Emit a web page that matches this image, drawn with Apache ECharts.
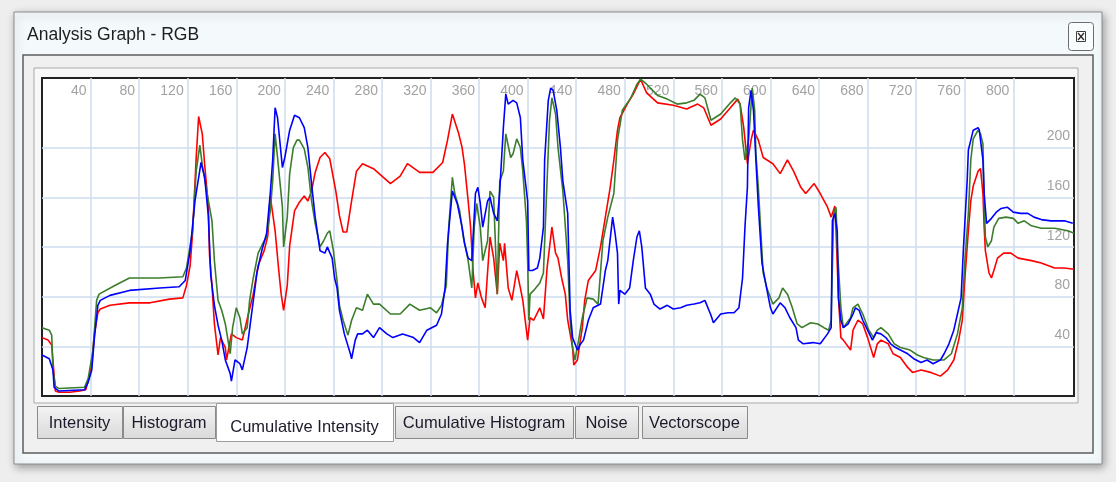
<!DOCTYPE html>
<html>
<head>
<meta charset="utf-8">
<script src="https://cdn.jsdelivr.net/npm/echarts@6/dist/echarts.min.js"></script>
<style>
html,body{margin:0;padding:0;background:#eeeeee;}
#chart{width:1116px;height:482px;}
</style>
</head>
<body>
<div id="chart"></div>
<script>
// ---- data (x: pixel column index 0..850, y: intensity 0..255) ----
const titleText = 'Analysis Graph - RGB';
const tabLabels = ['Intensity', 'Histogram', 'Cumulative Intensity', 'Cumulative Histogram', 'Noise', 'Vectorscope'];
const selectedTab = 'Cumulative Intensity';
const xTicks = [40, 80, 120, 160, 200, 240, 280, 320, 360, 400, 440, 480, 520, 560, 600, 640, 680, 720, 760, 800];
const yTicks = [40, 80, 120, 160, 200];

const redData = [[0,47],[5,45],[8,41],[9,29],[11,4],[14,3],[23,3],[31,4],[36,5],[38,12],[41,25],[43,49],[46,67],[48,70],[56,73],[72,75],[89,75],[105,78],[116,79],[119,89],[122,105],[124,131],[127,192],[129,225],[132,211],[134,186],[137,153],[138,113],[140,89],[142,58],[145,33],[147,47],[151,39],[152,29],[156,50],[160,47],[165,45],[170,66],[174,82],[178,105],[183,117],[186,129],[188,161],[192,133],[195,101],[197,82],[199,69],[202,89],[204,121],[208,149],[212,156],[216,161],[219,157],[222,165],[225,180],[229,192],[233,196],[237,191],[242,165],[245,145],[248,132],[251,132],[255,157],[259,181],[264,187],[273,183],[280,177],[287,171],[295,177],[301,187],[311,180],[322,180],[330,188],[334,206],[338,227],[343,212],[346,200],[348,186],[351,157],[353,136],[355,101],[357,79],[359,91],[362,79],[365,71],[369,128],[372,111],[375,82],[377,123],[380,109],[381,123],[384,87],[387,77],[391,101],[394,87],[396,77],[400,45],[402,63],[405,61],[410,71],[413,62],[416,103],[420,136],[423,115],[425,111],[428,95],[431,82],[433,61],[437,39],[438,25],[441,29],[445,55],[447,77],[450,93],[456,101],[460,120],[464,144],[468,168],[471,190],[474,214],[476,224],[482,235],[487,243],[493,255],[498,244],[507,236],[520,234],[531,231],[540,235],[545,232],[551,218],[559,223],[567,232],[573,239],[575,235],[578,216],[581,187],[584,206],[586,214],[590,206],[594,192],[602,187],[608,179],[614,190],[619,181],[625,168],[629,163],[636,171],[641,163],[647,152],[650,144],[653,153],[654,133],[656,79],[658,47],[660,45],[666,37],[668,53],[672,61],[676,58],[680,47],[685,31],[688,42],[691,45],[697,42],[701,34],[707,31],[713,23],[717,19],[724,21],[732,19],[740,16],[746,21],[751,29],[755,45],[758,61],[760,93],[763,133],[765,157],[767,169],[771,181],[773,183],[775,163],[776,136],[777,117],[780,99],[782,95],[784,101],[787,111],[792,115],[798,115],[804,111],[815,109],[823,107],[834,103],[842,103],[850,102]];

const greenData = [[0,55],[6,53],[8,49],[9,21],[11,8],[14,6],[35,7],[38,14],[42,37],[45,77],[47,82],[60,89],[72,95],[97,95],[116,96],[119,103],[124,133],[127,181],[130,202],[132,186],[136,163],[140,141],[142,109],[145,77],[148,69],[151,58],[155,34],[157,55],[160,71],[163,63],[165,50],[169,55],[171,77],[174,95],[178,115],[182,123],[185,128],[188,149],[190,173],[192,211],[194,192],[198,152],[199,120],[202,144],[204,179],[207,200],[210,206],[212,206],[216,199],[219,184],[222,157],[225,139],[229,120],[232,125],[235,131],[237,133],[240,117],[243,93],[245,73],[248,61],[252,49],[255,61],[259,71],[264,69],[268,82],[273,74],[278,74],[287,66],[295,66],[303,74],[311,69],[320,71],[325,67],[329,73],[333,89],[335,136],[338,176],[340,163],[344,149],[347,128],[351,109],[354,87],[356,136],[358,155],[361,136],[363,109],[367,125],[369,165],[372,160],[375,82],[377,173],[380,181],[382,211],[386,192],[388,195],[391,207],[394,200],[396,181],[399,141],[400,109],[401,61],[402,82],[405,85],[410,91],[413,99],[415,149],[418,222],[420,240],[423,227],[425,200],[429,165],[433,109],[435,61],[437,39],[439,29],[442,45],[445,63],[449,79],[454,78],[458,74],[462,125],[466,144],[471,163],[474,206],[478,230],[485,240],[490,251],[493,255],[498,251],[507,242],[515,239],[523,235],[531,236],[537,238],[542,243],[546,240],[551,222],[559,227],[567,236],[571,240],[575,235],[577,206],[579,190],[582,206],[585,248],[587,230],[588,195],[590,168],[592,133],[594,99],[597,87],[602,74],[607,79],[610,87],[614,82],[618,71],[622,58],[626,55],[633,59],[639,58],[644,55],[648,53],[650,61],[652,147],[654,152],[655,120],[658,71],[660,55],[666,63],[668,71],[672,74],[676,66],[681,53],[685,47],[688,53],[691,55],[697,50],[702,42],[707,39],[715,37],[721,33],[726,31],[734,29],[743,29],[749,34],[754,50],[758,71],[760,107],[763,147],[765,190],[767,207],[771,214],[773,211],[775,203],[776,157],[777,128],[779,120],[782,125],[784,136],[788,143],[794,144],[800,143],[804,139],[809,141],[815,137],[823,135],[834,135],[845,133],[850,131]];

const blueData = [[0,33],[6,30],[9,21],[10,7],[14,4],[35,5],[38,11],[41,21],[43,45],[46,73],[48,77],[56,81],[72,85],[97,87],[113,88],[118,93],[122,117],[126,157],[131,188],[134,176],[137,145],[139,97],[142,73],[145,57],[148,45],[151,29],[155,18],[156,12],[159,29],[163,26],[165,21],[169,39],[173,69],[177,99],[181,117],[185,131],[188,163],[190,190],[192,232],[194,224],[198,184],[200,192],[204,214],[208,226],[212,224],[216,216],[219,200],[222,171],[225,144],[229,117],[233,115],[235,120],[239,111],[241,95],[243,87],[245,69],[249,50],[254,34],[255,30],[258,45],[260,50],[264,50],[268,53],[273,47],[278,55],[284,50],[289,47],[297,50],[306,47],[311,43],[317,53],[325,57],[329,66],[332,87],[334,123],[338,165],[342,155],[346,136],[348,123],[351,111],[354,109],[357,163],[359,168],[361,155],[363,136],[367,157],[369,160],[372,147],[375,141],[377,165],[380,216],[382,243],[384,235],[388,238],[391,236],[394,224],[396,190],[400,157],[401,101],[404,101],[408,103],[410,111],[413,136],[414,190],[417,238],[419,248],[421,246],[424,230],[427,200],[429,173],[433,147],[434,109],[435,69],[437,47],[441,37],[443,41],[446,45],[450,61],[454,71],[460,74],[464,101],[466,109],[470,144],[472,131],[474,115],[475,74],[476,85],[480,82],[484,87],[487,109],[490,128],[492,133],[494,120],[497,87],[501,82],[504,74],[509,70],[515,73],[520,70],[526,71],[531,73],[537,74],[542,75],[546,77],[551,65],[553,59],[559,66],[565,67],[570,67],[574,71],[577,95],[579,136],[581,168],[582,232],[584,246],[586,230],[588,190],[590,153],[593,107],[596,91],[600,71],[602,66],[608,75],[612,71],[616,63],[621,55],[623,45],[627,42],[635,43],[641,42],[647,50],[650,55],[651,141],[653,147],[655,133],[656,79],[658,61],[660,55],[664,58],[668,66],[670,71],[673,69],[676,61],[680,53],[684,45],[687,51],[691,50],[695,47],[699,42],[703,39],[707,37],[713,34],[718,30],[724,27],[729,29],[734,26],[740,29],[743,34],[747,42],[751,53],[754,66],[757,79],[759,120],[762,173],[763,198],[765,206],[767,214],[771,216],[772,214],[775,190],[776,163],[778,139],[782,143],[786,148],[790,151],[795,152],[800,148],[806,147],[812,147],[817,144],[823,142],[831,141],[842,141],[849,139]];

// ---- window chrome (layout only) ----
const FONT = '"Liberation Sans", Arial, sans-serif';
const tabBoxes = [[37,122],[123,215],[216,393],[395,573],[575,638],[642,747]];
const graphics = [
  { type:'rect', z:-20, shape:{x:14,y:12,width:1088,height:452},
    style:{fill:'#f4fafc', stroke:'#8c8c8c', lineWidth:1, shadowBlur:8, shadowColor:'rgba(0,0,0,0.35)', shadowOffsetX:2, shadowOffsetY:3} },
  { type:'rect', z:-19, shape:{x:23,y:55,width:1070,height:398},
    style:{fill:'#f0f0f0', stroke:'#5c5c5c', lineWidth:1.5} },
  { type:'rect', z:-18, shape:{x:34,y:68,width:1044,height:335},
    style:{fill:'#f8f8f8', stroke:'#a9a9a9', lineWidth:1} },
  { type:'text', z:5, style:{x:27,y:35,text:titleText,font:'17.5px '+FONT,fill:'#1e1e1e',verticalAlign:'middle'} },
  { type:'rect', z:5, shape:{x:1068.5,y:22.5,width:25,height:28,r:3},
    style:{fill:'#f8fcfd', stroke:'#6c6c6c', lineWidth:1} },
  { type:'rect', z:6, shape:{x:1076.5,y:31.5,width:9,height:10},
    style:{fill:'#ffffff', stroke:'#3c3c3c', lineWidth:1} },
  { type:'line', z:7, shape:{x1:1078,y1:33,x2:1084,y2:40}, style:{stroke:'#2a2a2a', lineWidth:1.3} },
  { type:'line', z:7, shape:{x1:1084,y1:33,x2:1078,y2:40}, style:{stroke:'#2a2a2a', lineWidth:1.3} }
];
tabLabels.forEach(function(label, i){
  const b = tabBoxes[i];
  const sel = label === selectedTab;
  graphics.push({
    type:'rect', z: sel ? 4 : 3,
    shape:{x:b[0]+0.5, y: sel ? 403.5 : 406.5, width:b[1]-b[0], height: sel ? 38 : 32},
    style: sel ? {fill:'#ffffff', stroke:'#9c9c9c', lineWidth:1}
               : {fill:{type:'linear',x:0,y:0,x2:0,y2:1,colorStops:[{offset:0,color:'#f4f4f4'},{offset:1,color:'#d9d9d9'}]},
                  stroke:'#8a8a8a', lineWidth:1}
  });
  graphics.push({
    type:'text', z:6,
    style:{x:(b[0]+b[1])/2, y: sel ? 427 : 423, text:label, font:(sel ? '16.5px ' : '16.5px ')+FONT,
           fill:'#1b1b2b', align:'center', verticalAlign:'middle'}
  });
});

const chart = echarts.init(document.getElementById('chart'), null, {renderer:'canvas'});
chart.setOption({
  animation:false,
  backgroundColor:'#eeeeee',
  graphic: graphics,
  grid:{left:42, right:42, top:78, bottom:86, show:true, backgroundColor:'#ffffff', borderColor:'#222222', borderWidth:2},
  xAxis:{
    type:'value', min:0, max:850, position:'top',
    axisLine:{show:false},
    axisTick:{show:false, customValues:xTicks},
    axisLabel:{customValues:xTicks, inside:true, margin:6, align:'right', padding:[0,4,0,0],
               color:'#a2a2a2', fontSize:14, fontFamily:FONT},
    splitLine:{show:true, lineStyle:{color:'#cddcef', width:1.5}}
  },
  yAxis:{
    type:'value', min:0, max:256, position:'right',
    axisLine:{show:false},
    axisTick:{show:false, customValues:yTicks},
    axisLabel:{customValues:yTicks, inside:true, margin:4, verticalAlign:'bottom', padding:[0,0,4,0],
               color:'#a2a2a2', fontSize:14, fontFamily:FONT},
    splitLine:{show:true, lineStyle:{color:'#cddcef', width:1.5}}
  },
  series:[
    {name:'R', type:'line', data:redData, showSymbol:false, symbol:'none', lineStyle:{color:'#ff0000', width:1.6}, itemStyle:{color:'#ff0000'}},
    {name:'G', type:'line', data:greenData, showSymbol:false, symbol:'none', lineStyle:{color:'#3c7d2c', width:1.6}, itemStyle:{color:'#3c7d2c'}},
    {name:'B', type:'line', data:blueData, showSymbol:false, symbol:'none', lineStyle:{color:'#0000ff', width:1.6}, itemStyle:{color:'#0000ff'}}
  ]
});
</script>
</body>
</html>
